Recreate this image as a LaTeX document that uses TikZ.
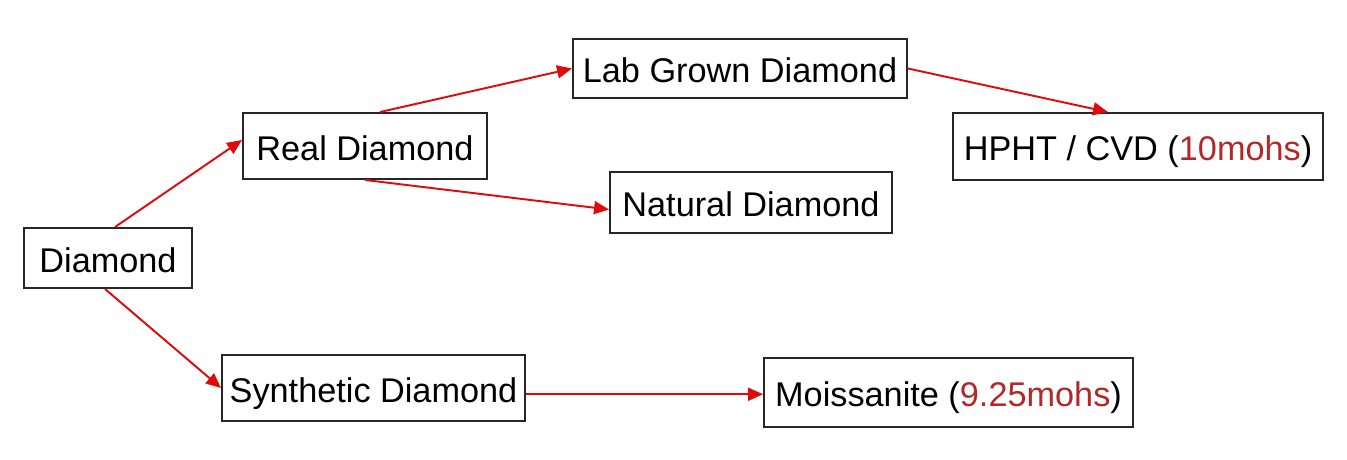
\documentclass[tikz,border=0pt]{standalone}
\usepackage{fontspec}
\setmainfont{Liberation Sans}
\usetikzlibrary{arrows.meta,positioning}
\definecolor{mohsred}{RGB}{178,40,40}
\definecolor{linkred}{RGB}{225,10,10}

\begin{document}
\begin{tikzpicture}[
    font=\fontsize{19.5}{23}\selectfont,
    >={Triangle[length=3mm,width=2.6mm]},
    box/.style={draw=black!85, line width=1.1pt, align=center, inner sep=3pt,
                text height=16pt, text depth=0pt},
    link/.style={->, draw=linkred, line width=1.1pt},
]
\useasboundingbox (0,0) rectangle (26.94,-9.18);

%% ---- ROOT ----
\node[box, minimum width=33.6mm, minimum height=12mm] (diamond) at (2.16,-5.16) {Diamond};

%% ---- FIRST SPLIT ----
\node[box, minimum width=48.8mm, minimum height=13.2mm] (real)  at (7.30,-2.92) {Real Diamond};
\node[box, minimum width=60.6mm, minimum height=13.2mm] (synth) at (7.47,-7.76) {Synthetic Diamond};

%% ---- REAL DIAMOND BRANCHES ----
\node[box, minimum width=66.8mm, minimum height=11.8mm] (lab)     at (14.80,-1.37) {Lab Grown Diamond};
\node[box, minimum width=56.4mm, minimum height=12.2mm] (natural) at (15.02,-4.05) {Natural Diamond};

%% ---- HARDNESS LEAVES ----
\node[box, minimum width=74mm, minimum height=13.4mm] (hpht) at (22.76,-2.93)
    {HPHT / CVD (\textcolor{mohsred}{10mohs})};
\node[box, minimum width=73.8mm, minimum height=13.8mm] (moiss) at (18.97,-7.85)
    {Moissanite (\textcolor{mohsred}{9.25mohs})};

%% ---- ARROWS ----
\draw[link] ([xshift=1.4mm]diamond.north) -- ([yshift=1.2mm]real.west);
\draw[link] ([xshift=-0.6mm]diamond.south) -- (synth.west);
\draw[link] ([xshift=3mm]real.north) -- (lab.west);
\draw[link] (real.south) -- ([yshift=-1.4mm]natural.west);
\draw[link] (lab.east) -- ([xshift=-6mm]hpht.north);
\draw[link] ([yshift=-1.25mm]synth.east) -- ([yshift=-1.25mm]synth.east -| moiss.west);

\end{tikzpicture}
\end{document}
